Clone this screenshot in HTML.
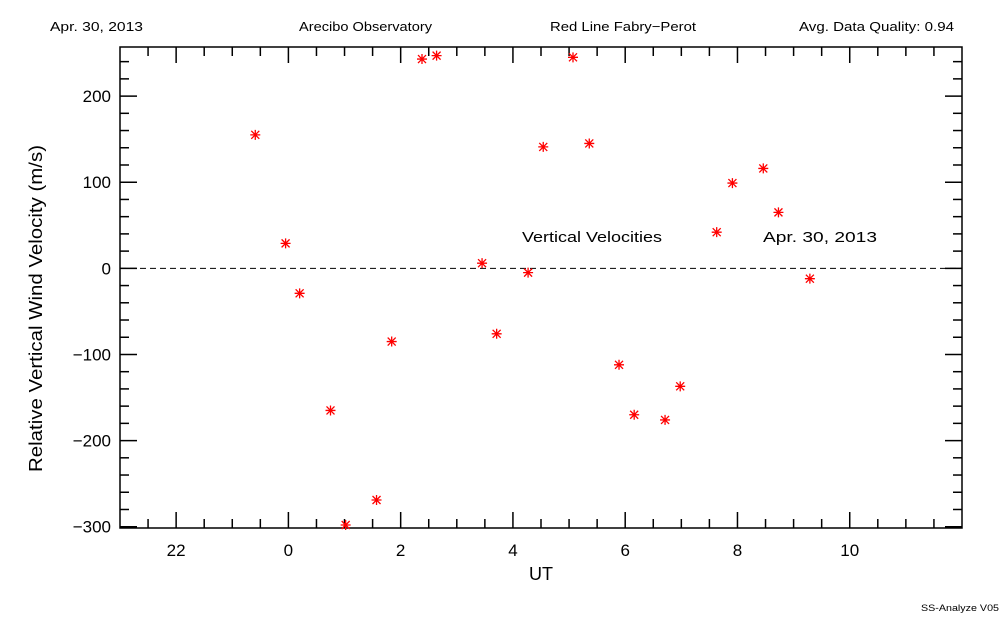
<!DOCTYPE html>
<html><head><meta charset="utf-8"><style>
body{margin:0;background:#fff;width:1000px;height:625px;overflow:hidden}
svg text{font-family:"Liberation Sans",sans-serif;fill:#000}
</style></head><body>
<svg id="c" width="1000" height="625" xmlns="http://www.w3.org/2000/svg">
<text x="50" y="31" font-size="13" textLength="93" lengthAdjust="spacingAndGlyphs">Apr. 30, 2013</text>
<text x="299" y="31" font-size="13" textLength="133" lengthAdjust="spacingAndGlyphs">Arecibo Observatory</text>
<text x="550" y="31" font-size="13" textLength="146" lengthAdjust="spacingAndGlyphs">Red Line Fabry−Perot</text>
<text x="799" y="31" font-size="13" textLength="155" lengthAdjust="spacingAndGlyphs">Avg. Data Quality: 0.94</text>
<text x="921" y="611" font-size="9" textLength="78" lengthAdjust="spacingAndGlyphs">SS-Analyze V05</text>
<text x="541" y="580" font-size="18" text-anchor="middle">UT</text>
<text transform="translate(42,472) rotate(-90)" font-size="18" textLength="327" lengthAdjust="spacingAndGlyphs">Relative Vertical Wind Velocity (m/s)</text>
<text x="522" y="242" font-size="15" textLength="140" lengthAdjust="spacingAndGlyphs">Vertical Velocities</text>
<text x="763" y="242" font-size="15" textLength="114" lengthAdjust="spacingAndGlyphs">Apr. 30, 2013</text>
<g id="g"></g>
</svg>
<script>
const hours=[23.41,23.95,24.20,24.75,25.02,25.57,25.84,26.38,26.64,27.45,27.71,28.27,28.54,29.07,29.36,29.89,30.16,30.71,30.98,31.63,31.91,32.46,32.73,33.29];
const velocities=[155,29,-29,-165,-298,-269,-85,243,247,6,-76,-5,141,245,145,-112,-170,-176,-137,42,99,116,65,-12];
const xTickLabels=["22","0","2","4","6","8","10"];
const yTickLabels=["-300","-200","-100","0","100","200"];
const L=120,R=962,T=47,B=528,xmin=21,xmax=36,ymin=-301.5,ymax=257;
const X=h=>L+(h-xmin)/(xmax-xmin)*(R-L);
const Y=v=>B-(v-ymin)/(ymax-ymin)*(B-T);
const g=document.getElementById('g');const NS='http://www.w3.org/2000/svg';
function mk(t,a){const e=document.createElementNS(NS,t);for(const k in a)e.setAttribute(k,a[k]);g.appendChild(e);return e;}
const fr=mk('rect',{x:L,y:T,width:R-L,height:B-T,fill:'none',stroke:'#000','stroke-width':1.5});


for(let h=21.5;h<36;h+=0.5){const maj=Math.abs(h%2)<1e-6;const len=maj?16:9;const x=X(h);
mk('line',{x1:x,x2:x,y1:B,y2:B-len,stroke:'#000','stroke-width':1.5});
mk('line',{x1:x,x2:x,y1:T,y2:T+len,stroke:'#000','stroke-width':1.5});}
xTickLabels.forEach((s,i)=>{const t=mk('text',{x:X(22+2*i),y:556,'font-size':17,'text-anchor':'middle'});t.textContent=s;

});
for(let v=-300;v<=250;v+=20){const maj=v%100===0;const len=maj?17:9;const y=Y(v);
mk('line',{x1:L,x2:L+len,y1:y,y2:y,stroke:'#000','stroke-width':1.5});
mk('line',{x1:R,x2:R-len,y1:y,y2:y,stroke:'#000','stroke-width':1.5});}
yTickLabels.forEach(s=>{const v=+s;const t=mk('text',{x:111,y:Y(v)+6,'font-size':17,'text-anchor':'end'});t.textContent=s.replace('-','−');

});
const z=mk('line',{x1:L,x2:R,y1:Y(0),y2:Y(0),stroke:'#000','stroke-dasharray':'6,4','stroke-width':1});


hours.forEach((h,i)=>{const x=X(h),y=Y(velocities[i]);const p=mk('path',{d:`M${x-5} ${y}H${x+5}M${x} ${y-5}V${y+5}M${x-4} ${y-4}L${x+4} ${y+4}M${x-4} ${y+4}L${x+4} ${y-4}`,stroke:'#f00','stroke-width':1.3});

});
</script>
</body></html>
